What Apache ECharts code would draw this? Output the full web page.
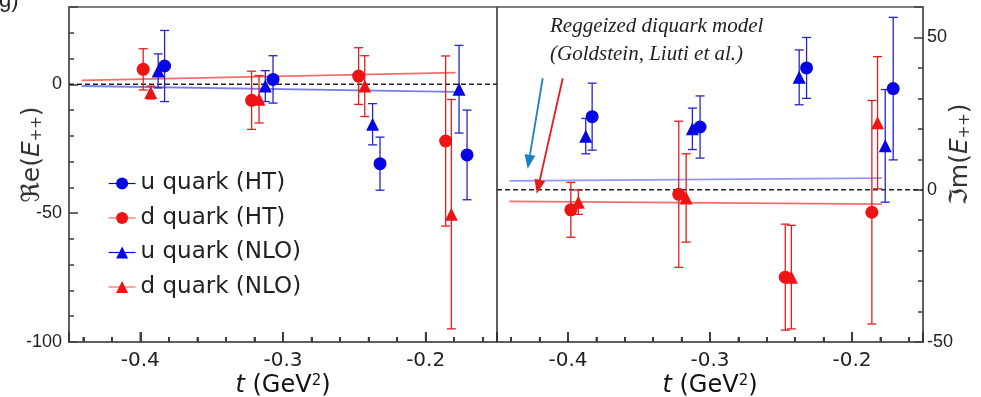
<!DOCTYPE html>
<html><head><meta charset="utf-8">
<script src="https://cdn.jsdelivr.net/npm/echarts@6/dist/echarts.min.js"></script>
<style>html,body{margin:0;padding:0;background:#fff}#c{width:981px;height:397px}</style>
</head><body><div id="c"></div>
<script>
// ---------- data ----------
const legendNames = ['u quark (HT)', 'd quark (HT)', 'u quark (NLO)', 'd quark (NLO)'];
const tRange = [-0.45, -0.15];
const reRange = [-100, 30];
const imRange = [-50, 60];
const xTicks = [-0.4, -0.3, -0.2];
const xMinorTicks = [-0.44, -0.42, -0.38, -0.36, -0.34, -0.32, -0.28, -0.26, -0.24, -0.22, -0.18, -0.16];
const reTicks = [-100, -50, 0];
const imTicks = [-50, 0, 50];

const tU_HT  = [-0.383, -0.307, -0.232, -0.171];
const tD_HT  = [-0.398, -0.322, -0.247, -0.186];
const tU_NLO = [-0.3875, -0.3124, -0.2372, -0.1766];
const tD_NLO = [-0.3927, -0.3168, -0.2427, -0.182];

// Re(E++)
const reU_HT = [7.1, 1.9, -30.8, -27.4];      const reU_HT_err = [13.8, 9.2, 10.3, 17.4];
const reD_HT = [5.8, -6.2, 3.2, -22.0];       const reD_HT_err = [8.0, 11.3, 11.0, 33.0];
const reU_NLO = [5.2, -0.7, -15.5, -1.9];     const reU_NLO_err = [6.6, 6.0, 8.0, 17.0];
const reD_NLO = [-3.2, -5.8, -0.7, -50.4];    const reD_NLO_err = [2.5, 9.2, 11.8, 44.5];

// Im(E++)
const imU_HT = [24.0, 20.6, 40.0, 33.2];      const imU_HT_err = [11.0, 10.2, 10.0, 23.4];
const imD_HT = [-6.6, -1.5, -28.7, -7.4];     const imD_HT_err = [9.0, 24.0, 17.4, 36.7];
const imU_NLO = [17.6, 20.0, 36.9, 14.4];     const imU_NLO_err = [5.8, 6.8, 9.0, 18.5];
const imD_NLO = [-4.1, -2.7, -28.7, 22.0];    const imD_NLO_err = [4.0, 14.5, 17.0, 21.7];

// Reggeized diquark model curves
const modelT = [-0.4412, -0.179];
const reModelU = [-0.66, -2.9];
const reModelD = [1.55, 4.5];
const imModelU = [2.9, 3.8];
const imModelD = [-3.8, -4.7];
const zeroT = [-0.45, -0.15];
const zeroV = [0, 0];

// annotation arrows (right panel, data coords: t1, v1, t2, v2)
const arrowBlue = [-0.4178, 36.6, -0.4284, 6.9];
const arrowRed  = [-0.4037, 36.6, -0.4220, -1.3];

// ---------- styling ----------
const BLUE = '#0505e6', RED = '#ee1414';
const BLUE_BAR = '#2424cc', RED_BAR = '#e41c1c';
const FRAME = '#555';

const pts = (t, v) => t.map((x, i) => [x, v[i]]);
const errs = (t, v, e) => t.map((x, i) => [x, v[i] - e[i], v[i] + e[i]]);

function errSeries(gi, t, v, e, color) {
  return {
    type: 'custom', xAxisIndex: gi, yAxisIndex: gi, z: 3, silent: true,
    data: errs(t, v, e),
    renderItem: function (params, api) {
      const x = api.value(0), lo = api.value(1), hi = api.value(2);
      const p1 = api.coord([x, hi]), p2 = api.coord([x, lo]);
      const w = 4.5, st = { stroke: color, lineWidth: 1.3 };
      return { type: 'group', children: [
        { type: 'line', shape: { x1: p1[0], y1: p1[1], x2: p2[0], y2: p2[1] }, style: st },
        { type: 'line', shape: { x1: p1[0] - w, y1: p1[1], x2: p1[0] + w, y2: p1[1] }, style: st },
        { type: 'line', shape: { x1: p2[0] - w, y1: p2[1], x2: p2[0] + w, y2: p2[1] }, style: st }
      ]};
    }
  };
}
// inward tick marks on the bottom axis, placed through the axis scale (own layer on top)
function tickSeries(gi, values, yBase, len) {
  return {
    type: 'custom', xAxisIndex: gi, yAxisIndex: gi, z: 50, zlevel: 1, silent: true, clip: false,
    data: values.map(v => [v, yBase]),
    renderItem: function (params, api) {
      const p = api.coord([api.value(0), api.value(1)]);
      return { type: 'rect', shape: { x: p[0] - 0.8, y: p[1] - len, width: 1.6, height: len }, style: { fill: '#3a3a3a' } };
    }
  };
}
function arrowSeries(gi, arrows, colors) {
  return {
    type: 'custom', xAxisIndex: gi, yAxisIndex: gi, z: 6, silent: true,
    data: arrows,
    renderItem: function (params, api) {
      const a = api.coord([api.value(0), api.value(1)]);
      const b = api.coord([api.value(2), api.value(3)]);
      const dx = b[0] - a[0], dy = b[1] - a[1], L = Math.sqrt(dx * dx + dy * dy);
      const ux = dx / L, uy = dy / L, head = 14, hw = 5.5;
      const base = [b[0] - ux * head, b[1] - uy * head];
      const c = colors[params.dataIndex];
      return { type: 'group', children: [
        { type: 'line', shape: { x1: a[0], y1: a[1], x2: base[0], y2: base[1] }, style: { stroke: c, lineWidth: 1.8 } },
        { type: 'polygon', shape: { points: [b, [base[0] - uy * hw, base[1] + ux * hw], [base[0] + uy * hw, base[1] - ux * hw]] }, style: { fill: c } }
      ]};
    }
  };
}
function markSeries(gi, name, t, v, color, lineColor, symbol) {
  return {
    type: 'line', name: name, xAxisIndex: gi, yAxisIndex: gi, z: 5,
    data: pts(t, v), symbol: symbol, symbolSize: 13, showSymbol: true, showAllSymbol: true,
    itemStyle: { color: color, borderWidth: 0 },
    lineStyle: { color: lineColor, opacity: 0, width: 1.2 },
    emphasis: { disabled: true }
  };
}
function lineSeries(gi, t, v, color, width, type, z) {
  return {
    type: 'line', xAxisIndex: gi, yAxisIndex: gi, z: z, silent: true,
    data: pts(t, v), symbol: 'none',
    lineStyle: { color: color, width: width, type: type },
    emphasis: { disabled: true }
  };
}

const isTick = (v, list) => list.some(x => Math.abs(x - v) < 1e-6);

function xAxis(gi) {
  return {
    type: 'value', gridIndex: gi, min: tRange[0], max: tRange[1], splitNumber: 3, position: 'bottom',
    axisLine: { show: true, onZero: false, lineStyle: { color: FRAME, width: 1.5 } },
    axisTick: { show: true, inside: true, length: 10, lineStyle: { color: '#333', width: 1.8 } },
    minorTick: { show: true, splitNumber: 5, length: 5, lineStyle: { color: '#333', width: 1.8 } },
    splitLine: { show: false }, minorSplitLine: { show: false },
    axisLabel: { formatter: v => isTick(v, xTicks) ? String(v) : '', fontFamily: 'DejaVu Sans', fontSize: 20, color: '#222', margin: 9 },
    name: '{i|t} (GeV{sup|2})', nameLocation: 'middle', nameGap: 32, nameMoveOverlap: false,
    nameTextStyle: { fontFamily: 'DejaVu Sans', fontSize: 24, color: '#111',
      rich: { i: { fontStyle: 'italic', fontFamily: 'DejaVu Sans', fontSize: 24, color: '#111' },
              sup: { fontFamily: 'DejaVu Sans', fontSize: 15, color: '#111', verticalAlign: 'top' } } }
  };
}
function yAxis(gi, range, ticks, pos, nameMain) {
  return {
    type: 'value', gridIndex: gi, min: range[0], max: range[1], interval: 50, position: pos,
    axisLine: { show: true, onZero: false, lineStyle: { color: FRAME, width: 1.5 } },
    axisTick: { show: true, inside: true, length: 9, lineStyle: { color: '#444', width: 1.6 } },
    minorTick: { show: true, splitNumber: 5, length: 5, lineStyle: { color: '#444', width: 1.6 } },
    splitLine: { show: false }, minorSplitLine: { show: false },
    axisLabel: { formatter: v => isTick(v, ticks) ? String(v) : '', fontFamily: 'Liberation Sans', fontSize: 18, color: '#222', margin: pos === 'left' ? 7 : 4 },
    name: '{r|' + nameMain + '(}{i|E}{s|++}{r|)}', nameLocation: 'middle', nameRotate: 90,
    nameGap: pos === 'left' ? 24 : 25, nameMoveOverlap: false,
    nameTextStyle: { fontFamily: 'DejaVu Sans', fontSize: 25, color: '#333', padding: [0, 0, 0, 40],
      rich: { r: { fontFamily: 'DejaVu Sans', fontSize: 25, color: '#333' },
              i: { fontFamily: 'DejaVu Sans', fontStyle: 'italic', fontSize: 25, color: '#333' },
              s: { fontFamily: 'DejaVu Sans', fontSize: 15, color: '#333', verticalAlign: 'bottom' } } }
  };
}

const option = {
  animation: false,
  backgroundColor: '#fff',
  grid: [
    { left: 69, top: 7, width: 428, height: 335, show: true, borderColor: FRAME, borderWidth: 1.5, backgroundColor: 'transparent', outerBoundsMode: 'none', containLabel: false },
    { left: 497, top: 7, width: 426, height: 335, show: true, borderColor: FRAME, borderWidth: 1.5, backgroundColor: 'transparent', outerBoundsMode: 'none', containLabel: false }
  ],
  xAxis: [xAxis(0), xAxis(1)],
  yAxis: [yAxis(0, reRange, reTicks, 'left', 'ℜe'), yAxis(1, imRange, imTicks, 'right', 'ℑm')],
  legend: {
    data: legendNames, orient: 'vertical', left: 108, top: 172, padding: 0,
    itemWidth: 27, itemHeight: 15, itemGap: 11.5,
    selectedMode: false,
    textStyle: { fontFamily: 'DejaVu Sans', fontSize: 23, color: '#222' },
    lineStyle: { opacity: 1, width: 1.2 }
  },
  graphic: [
    { type: 'text', left: 550, top: 12, silent: true,
      style: { text: 'Reggeized diquark model\n(Goldstein, Liuti et al.)', font: 'italic 21px "Liberation Serif"', fill: '#222', lineHeight: 28 } },
    { type: 'text', left: -1, top: -10, silent: true,
      style: { text: 'g)', font: '22px "Liberation Sans"', fill: '#222' } }
  ],
  series: [
    // left panel: Re
    lineSeries(0, zeroT, zeroV, '#222', 1.5, [5, 3], 1),
    lineSeries(0, modelT, reModelD, 'rgba(238,60,60,0.75)', 1.8, 'solid', 2),
    lineSeries(0, modelT, reModelU, 'rgba(70,70,225,0.7)', 1.8, 'solid', 2),
    tickSeries(0, xTicks, reRange[0], 10),
    tickSeries(0, xMinorTicks, reRange[0], 5),
    errSeries(0, tU_HT, reU_HT, reU_HT_err, BLUE_BAR),
    errSeries(0, tD_HT, reD_HT, reD_HT_err, RED_BAR),
    errSeries(0, tU_NLO, reU_NLO, reU_NLO_err, BLUE_BAR),
    errSeries(0, tD_NLO, reD_NLO, reD_NLO_err, RED_BAR),
    markSeries(0, legendNames[0], tU_HT, reU_HT, BLUE, BLUE, 'circle'),
    markSeries(0, legendNames[1], tD_HT, reD_HT, RED, '#f06a6a', 'circle'),
    markSeries(0, legendNames[2], tU_NLO, reU_NLO, BLUE, BLUE, 'triangle'),
    markSeries(0, legendNames[3], tD_NLO, reD_NLO, RED, '#f06a6a', 'triangle'),
    // right panel: Im
    lineSeries(1, zeroT, zeroV, '#222', 1.5, [5, 3], 1),
    lineSeries(1, modelT, imModelU, 'rgba(90,90,235,0.65)', 1.8, 'solid', 2),
    lineSeries(1, modelT, imModelD, 'rgba(238,60,60,0.75)', 1.8, 'solid', 2),
    tickSeries(1, xTicks, imRange[0], 10),
    tickSeries(1, xMinorTicks, imRange[0], 5),
    errSeries(1, tU_HT, imU_HT, imU_HT_err, BLUE_BAR),
    errSeries(1, tD_HT, imD_HT, imD_HT_err, RED_BAR),
    errSeries(1, tU_NLO, imU_NLO, imU_NLO_err, BLUE_BAR),
    errSeries(1, tD_NLO, imD_NLO, imD_NLO_err, RED_BAR),
    markSeries(1, legendNames[0], tU_HT, imU_HT, BLUE, BLUE, 'circle'),
    markSeries(1, legendNames[1], tD_HT, imD_HT, RED, '#f06a6a', 'circle'),
    markSeries(1, legendNames[2], tU_NLO, imU_NLO, BLUE, BLUE, 'triangle'),
    markSeries(1, legendNames[3], tD_NLO, imD_NLO, RED, '#f06a6a', 'triangle'),
    arrowSeries(1, [arrowBlue, arrowRed], ['#1f80c4', '#e41c1c'])
  ]
};
const chart = echarts.init(document.getElementById('c'), null, { renderer: 'canvas' });
chart.setOption(option);
</script></body></html>
